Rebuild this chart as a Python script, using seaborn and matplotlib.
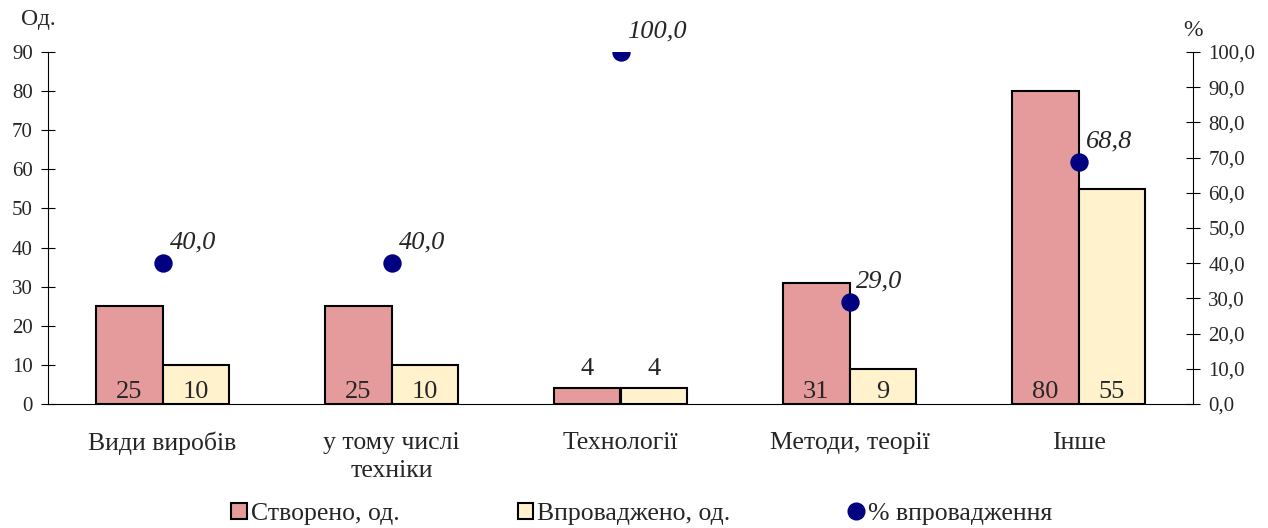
import matplotlib
matplotlib.use("Agg")
import matplotlib.pyplot as plt
import numpy as np
import pandas as pd
import seaborn as sns
from matplotlib.patches import Patch
from matplotlib.lines import Line2D

categories = ["Види виробів", "у тому числі\nтехніки", "Технології", "Методи, теорії", "Інше"]
created = [25, 25, 4, 31, 80]
implemented = [10, 10, 4, 9, 55]
percent = [40.0, 40.0, 100.0, 29.0, 68.8]

series_names = ["Створено, од.", "Впроваджено, од."]
pct_name = "% впровадження"
colors = {"Створено, од.": "#E59B9B", "Впроваджено, од.": "#FFF2CC"}
dot_color = "#000080"

sns.set_theme(style="white")
plt.rcParams["font.family"] = ["Liberation Serif", "DejaVu Serif"]

df = pd.DataFrame({
    "cat": categories * 2,
    "series": [series_names[0]] * len(categories) + [series_names[1]] * len(categories),
    "value": created + implemented,
})
df_pct = pd.DataFrame({"cat": categories, "pct": percent})

fig = plt.figure(figsize=(12.68, 5.28), dpi=100)
ax = fig.add_axes([48 / 1268, 1 - 404 / 528, (1193 - 48) / 1268, (404 - 52) / 528])

sns.barplot(data=df, x="cat", y="value", hue="series", palette=colors, saturation=1,
            width=0.58, edgecolor="black", linewidth=1.5, ax=ax, legend=False)

# value labels on bars: inside at the bottom, above the bar if it is too short
for cont in ax.containers:
    for rect in cont:
        h = rect.get_height()
        xc = rect.get_x() + rect.get_width() / 2
        if h < 8:
            ax.text(xc, h + 2.2, f"{int(h)}", ha="center", va="bottom", fontsize=19)
        else:
            ax.text(xc, 0.2, f"{int(h)}", ha="center", va="bottom", fontsize=19)

ax.set_ylim(0, 90)
ax.set_xlim(-0.5, len(categories) - 0.5)
ax.set_yticks(np.arange(0, 91, 10))
ax.set_xlabel("")
ax.set_ylabel("")
ax.set_xticks(range(len(categories)))
ax.set_xticklabels(categories, fontsize=18.5, linespacing=1.35)
ax.set_xticks(np.arange(-0.5, len(categories), 1), minor=True)
ax.tick_params(axis="x", which="major", length=0, pad=20)
ax.tick_params(axis="x", which="minor", length=9, width=0.8, direction="out", color="#333333")
ax.tick_params(axis="y", length=10, width=0.8, direction="inout", labelsize=15, pad=6,
               left=True, color="black")
for s in ["top", "right"]:
    ax.spines[s].set_visible(False)
for s in ["left", "bottom"]:
    ax.spines[s].set_color("black")
    ax.spines[s].set_linewidth(0.8)

ax2 = ax.twinx()
sns.scatterplot(data=df_pct, x="cat", y="pct", color=dot_color, s=150, edgecolor=dot_color,
                ax=ax2, legend=False, zorder=5)
ax2.set_ylim(0, 100)
ax2.set_yticks(np.arange(0, 101, 10))
ax2.set_yticklabels([f"{v:.1f}".replace(".", ",") for v in np.arange(0, 101, 10)])
ax2.set_ylabel("")
ax2.tick_params(axis="y", length=10, width=0.8, direction="inout", labelsize=15, pad=6,
                right=True, color="black")
for s in ["top", "left", "bottom"]:
    ax2.spines[s].set_visible(False)
ax2.spines["right"].set_color("black")
ax2.spines["right"].set_linewidth(0.8)
for i, p in enumerate(percent):
    ax2.annotate(f"{p:.1f}".replace(".", ","), (i, p), xytext=(5, 7), textcoords="offset points",
                 fontsize=19, fontstyle="italic", ha="left", va="bottom")

fig.text(21 / 1268, 1 - 20 / 528, "Од.", fontsize=17, ha="left", va="center")
fig.text(1193 / 1268, 1 - 31 / 528, "%", fontsize=17, ha="center", va="center")

handles = [
    Patch(facecolor=colors[series_names[0]], edgecolor="black", linewidth=1.5),
    Patch(facecolor=colors[series_names[1]], edgecolor="black", linewidth=1.5),
    Line2D([], [], marker="o", linestyle="none", color=dot_color, markersize=12),
]
fig.legend(handles, series_names + [pct_name], loc="lower center", ncol=3,
           bbox_to_anchor=(0.506, -0.038), frameon=False, fontsize=18.5,
           handlelength=0.6, handleheight=0.6, handletextpad=0.15, columnspacing=4.6)

fig.savefig("out.png", dpi=100)
